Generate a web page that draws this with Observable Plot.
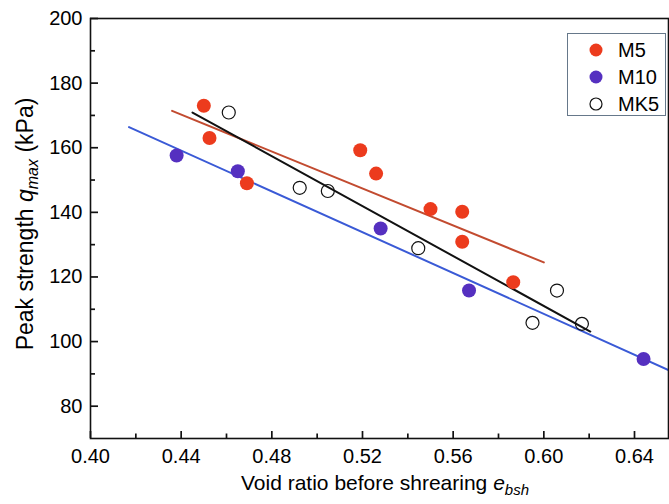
<!DOCTYPE html>
<html><head><meta charset="utf-8">
<script src="https://cdn.jsdelivr.net/npm/d3@7"></script>
<script src="https://cdn.jsdelivr.net/npm/@observablehq/plot@0.6"></script>
<style>
body{margin:0;background:#fff;}
#wrap{position:relative;width:669px;height:504px;font-family:"Liberation Sans",Arial,sans-serif;}
#legend{position:absolute;left:567px;top:33px;width:99px;height:83px;border:1px solid #66788a;background:#fff;box-sizing:border-box;}
#legend .sw{position:absolute;left:20px;}
#legend .lab{position:absolute;left:50px;font-size:20px;color:#000;white-space:nowrap;line-height:20px;}
</style>
</head><body><div id="wrap"></div>
<script>
// ---- data ----
const seriesNames = ["M5", "M10", "MK5"];
const m5X = [0.450, 0.4525, 0.469, 0.519, 0.526, 0.550, 0.564, 0.564, 0.5865];
const m5Y = [173, 163, 149, 159.2, 152, 141, 140.2, 130.9, 118.4];
const m10X = [0.438, 0.465, 0.528, 0.567, 0.644];
const m10Y = [157.6, 152.7, 135.0, 115.8, 94.6];
const mk5X = [0.461, 0.4923, 0.5047, 0.5446, 0.595, 0.6058, 0.6168];
const mk5Y = [170.9, 147.6, 146.6, 128.9, 105.8, 115.8, 105.5];
// fitted line end points
const m5FitX = [0.436, 0.600];
const m5FitY = [171.4, 124.5];
const m10FitX = [0.417, 0.655];
const m10FitY = [166.4, 91.2];
const mk5FitX = [0.445, 0.6205];
const mk5FitY = [170.9, 103.1];
// ticks
const xTicks = [0.40, 0.44, 0.48, 0.52, 0.56, 0.60, 0.64];
const xMinor = [0.42, 0.46, 0.50, 0.54, 0.58, 0.62];
const yTicks = [80, 100, 120, 140, 160, 180, 200];
const yMinor = [90, 110, 130, 150, 170, 190];

const zip = (X, Y) => X.map((x, i) => ({x, y: Y[i]}));
const m5 = zip(m5X, m5Y), m10 = zip(m10X, m10Y), mk5 = zip(mk5X, mk5Y);
const fit5 = zip(m5FitX, m5FitY), fit10 = zip(m10FitX, m10FitY), fitK5 = zip(mk5FitX, mk5FitY);

const RED = "#ec3b1d", PURPLE = "#5530c0", REDLINE = "#c24b30", BLUELINE = "#3a5ad6";
const FONT = "'Liberation Sans', Arial, sans-serif";

const W = 669, H = 504, ML = 90, MR = 1, MT = 18, MB = 66;
const xDomain = [0.40, 0.655], yDomain = [70, 200];
// tick lengths given in pixels, converted to data units for inward ticks
const pxX = (W - ML - MR) / (xDomain[1] - xDomain[0]);
const pxY = (H - MT - MB) / (yDomain[1] - yDomain[0]);
const tickRule = {stroke: "#111", strokeWidth: 1.7};

const chart = Plot.plot({
  width: W, height: H,
  marginLeft: ML, marginRight: MR, marginTop: MT, marginBottom: MB,
  style: {fontFamily: FONT, color: "#000", background: "#fff", overflow: "visible"},
  x: {domain: xDomain},
  y: {domain: yDomain},
  marks: [
    Plot.axisX({ticks: xTicks, tickSize: 0, tickPadding: 10, fontSize: 20, tickFormat: d => d.toFixed(2), label: null}),
    Plot.axisY({ticks: yTicks, tickSize: 0, tickPadding: 8, fontSize: 20, label: null}),
    Plot.ruleX(xTicks, {x: d => d, y1: yDomain[0], y2: yDomain[0] + 7 / pxY, ...tickRule}),
    Plot.ruleX(xMinor, {x: d => d, y1: yDomain[0], y2: yDomain[0] + 4.5 / pxY, ...tickRule}),
    Plot.ruleY(yTicks, {y: d => d, x1: xDomain[0], x2: xDomain[0] + 8 / pxX, ...tickRule}),
    Plot.ruleY(yMinor, {y: d => d, x1: xDomain[0], x2: xDomain[0] + 5 / pxX, ...tickRule}),
    Plot.line(fit5, {x: "x", y: "y", stroke: REDLINE, strokeWidth: 2, clip: true}),
    Plot.line(fit10, {x: "x", y: "y", stroke: BLUELINE, strokeWidth: 2, clip: true}),
    Plot.line(fitK5, {x: "x", y: "y", stroke: "#111", strokeWidth: 2, clip: true}),
    Plot.dot(m5, {x: "x", y: "y", r: 7, fill: RED}),
    Plot.dot(m10, {x: "x", y: "y", r: 7, fill: PURPLE}),
    Plot.dot(mk5, {x: "x", y: "y", r: 6.5, fill: "none", stroke: "#111", strokeWidth: 1.2}),
    Plot.frame({stroke: "#111", strokeWidth: 1.6})
  ]
});

const wrap = document.getElementById("wrap");
wrap.appendChild(chart);

// axis titles with subscripts
const svg = d3.select(chart);
const xt = svg.append("text")
  .attr("x", 385).attr("y", 490)
  .attr("text-anchor", "middle")
  .attr("font-size", 21).attr("font-family", FONT).attr("fill", "#000");
xt.append("tspan").text("Void ratio before shrearing ");
xt.append("tspan").attr("font-style", "italic").text("e");
xt.append("tspan").attr("font-style", "italic").attr("font-size", 15).attr("dy", 5).text("bsh");

const yt = svg.append("text")
  .attr("transform", "translate(33,224) rotate(-90)")
  .attr("text-anchor", "middle")
  .attr("font-size", 23).attr("font-family", FONT).attr("fill", "#000");
yt.append("tspan").text("Peak strength ");
yt.append("tspan").attr("font-style", "italic").text("q");
yt.append("tspan").attr("font-style", "italic").attr("font-size", 16).attr("dy", 5).text("max");
yt.append("tspan").attr("dy", -5).text(" (kPa)");

// legend
const legend = document.createElement("div");
legend.id = "legend";
const legendStyles = [
  {fill: RED, stroke: "none"},
  {fill: PURPLE, stroke: "none"},
  {fill: "none", stroke: "#111"}
];
seriesNames.forEach((name, i) => {
  const cy = 16 + i * 27;
  const sw = document.createElementNS("http://www.w3.org/2000/svg", "svg");
  sw.setAttribute("width", 16); sw.setAttribute("height", 16);
  sw.setAttribute("class", "sw");
  sw.style.top = (cy - 8) + "px";
  const c = document.createElementNS("http://www.w3.org/2000/svg", "circle");
  c.setAttribute("cx", 8); c.setAttribute("cy", 8);
  c.setAttribute("r", i === 2 ? 6 : 6.5);
  c.setAttribute("fill", legendStyles[i].fill);
  c.setAttribute("stroke", legendStyles[i].stroke);
  c.setAttribute("stroke-width", 1.2);
  sw.appendChild(c);
  legend.appendChild(sw);
  const lab = document.createElement("div");
  lab.className = "lab";
  lab.style.top = (cy - 10) + "px";
  lab.textContent = name;
  legend.appendChild(lab);
});
wrap.appendChild(legend);
</script></body></html>
